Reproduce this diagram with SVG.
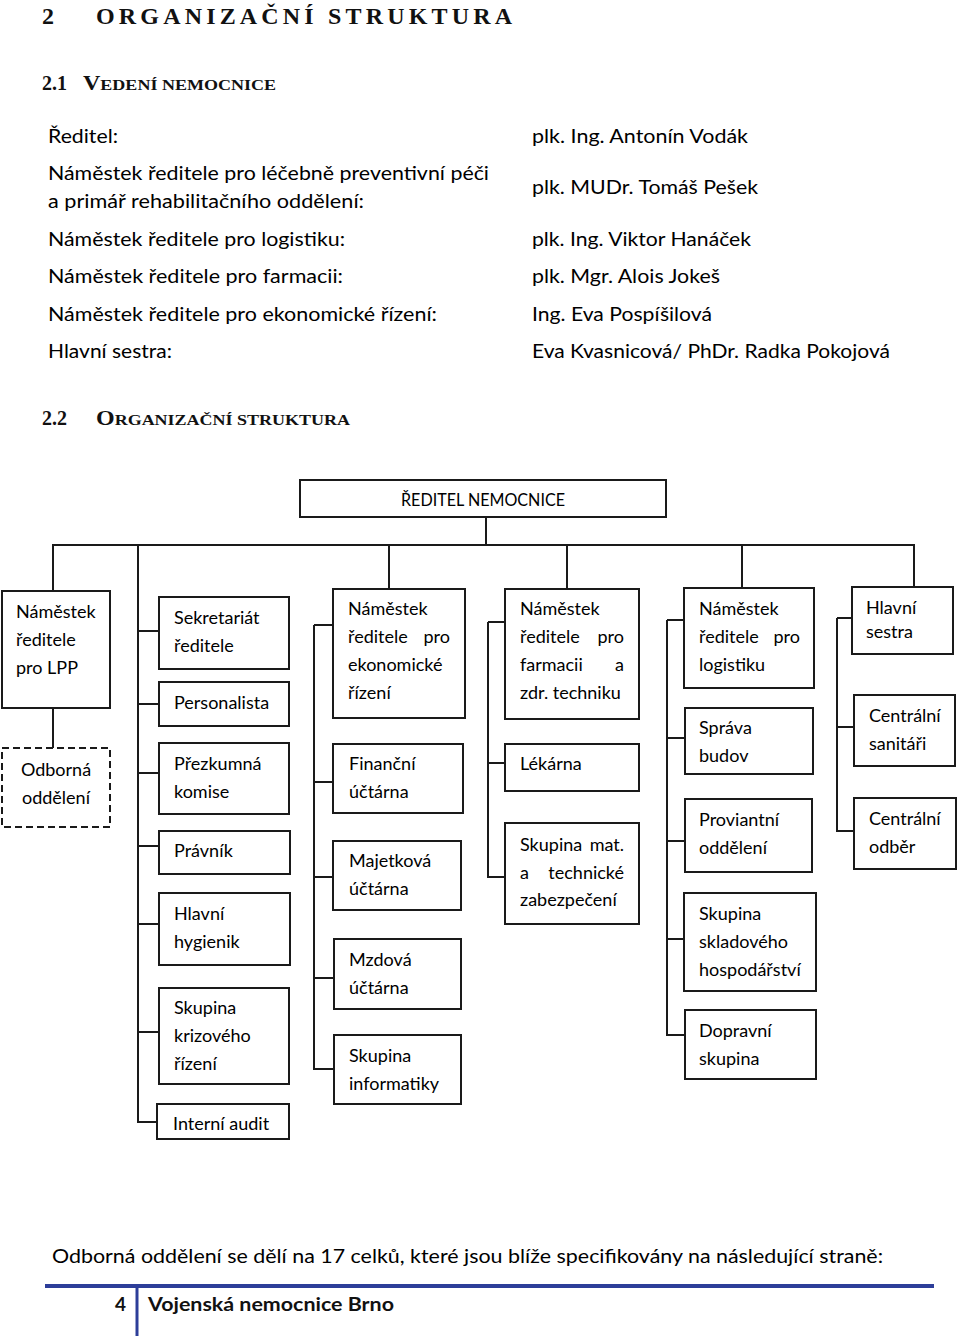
<svg xmlns="http://www.w3.org/2000/svg" width="960" height="1339" viewBox="0 0 960 1339">
<style>
.bg{fill:#fff}
.box{fill:#fff;stroke:#1a1a1a;stroke-width:2}
.dash{fill:#fff;stroke:#1a1a1a;stroke-width:2;stroke-dasharray:7 4}
.conn{fill:none;stroke:#1a1a1a;stroke-width:2}
.t{font-family:Lato,"Open Sans","Liberation Sans",sans-serif;font-size:18px;fill:#000}
.p{font-family:Lato,"Open Sans","Liberation Sans",sans-serif;font-size:18.5px;fill:#000}
.h{font-family:"Liberation Serif","Times New Roman",serif;font-weight:bold;fill:#111}
.f{font-family:Lato,"Open Sans","Liberation Sans",sans-serif;font-size:19px;font-weight:bold;fill:#111}
</style>
<rect class="bg" x="0" y="0" width="960" height="1339"/>

<g id="headings">
<text class="h" x="42" y="24" font-size="24">2</text>
<text class="h" x="96" y="24" font-size="24" textLength="416" lengthAdjust="spacing">ORGANIZAČNÍ STRUKTURA</text>
<text class="h" x="42" y="90" font-size="20">2.1</text>
<text class="h" x="83" y="90" font-size="20" textLength="193" lengthAdjust="spacingAndGlyphs">V<tspan font-size="15">EDENÍ NEMOCNICE</tspan></text>
<text class="h" x="42" y="425" font-size="20">2.2</text>
<text class="h" x="96" y="425" font-size="20" textLength="254" lengthAdjust="spacingAndGlyphs">O<tspan font-size="15">RGANIZAČNÍ STRUKTURA</tspan></text>
</g>

<g id="management">
<text class="p" x="48" y="143" textLength="70" lengthAdjust="spacingAndGlyphs">Ředitel:</text>
<text class="p" x="48" y="180" textLength="441" lengthAdjust="spacingAndGlyphs">Náměstek ředitele pro léčebně preventivní péči</text>
<text class="p" x="48" y="208" textLength="316" lengthAdjust="spacingAndGlyphs">a primář rehabilitačního oddělení:</text>
<text class="p" x="48" y="246" textLength="297" lengthAdjust="spacingAndGlyphs">Náměstek ředitele pro logistiku:</text>
<text class="p" x="48" y="283" textLength="295" lengthAdjust="spacingAndGlyphs">Náměstek ředitele pro farmacii:</text>
<text class="p" x="48" y="321" textLength="389" lengthAdjust="spacingAndGlyphs">Náměstek ředitele pro ekonomické řízení:</text>
<text class="p" x="48" y="358" textLength="124" lengthAdjust="spacingAndGlyphs">Hlavní sestra:</text>
<text class="p" x="532" y="143" textLength="216" lengthAdjust="spacingAndGlyphs">plk. Ing. Antonín Vodák</text>
<text class="p" x="532" y="194" textLength="226" lengthAdjust="spacingAndGlyphs">plk. MUDr. Tomáš Pešek</text>
<text class="p" x="532" y="246" textLength="219" lengthAdjust="spacingAndGlyphs">plk. Ing. Viktor Hanáček</text>
<text class="p" x="532" y="283" textLength="188" lengthAdjust="spacingAndGlyphs">plk. Mgr. Alois Jokeš</text>
<text class="p" x="532" y="321" textLength="180" lengthAdjust="spacingAndGlyphs">Ing. Eva Pospíšilová</text>
<text class="p" x="532" y="358" textLength="358" lengthAdjust="spacingAndGlyphs">Eva Kvasnicová/ PhDr. Radka Pokojová</text>
</g>

<g id="connectors">
<path class="conn" d="M486 517V545M52 545H915M53 545V591M53 708V748"/>
<path class="conn" d="M138 545V1122H157M138 631H159M138 704H159M138 773H159M138 846H159M138 924H159M138 1032H159"/>
<path class="conn" d="M389 545V589M314 625V1069H334M314 625H333M314 782H333M314 877H333M314 978H334"/>
<path class="conn" d="M567 545V589M488 622V877H505M488 622H505M488 763H505"/>
<path class="conn" d="M742 545V588M667 620V1035H685M667 620H684M667 738H685M667 841H685M667 939H684"/>
<path class="conn" d="M914 545V587M837 618V831H854M837 618H852M837 727H854"/>
</g>

<g id="n-reditel">
<rect class="box" x="300" y="480" width="366" height="37"/>
<text class="t" x="483" y="506" text-anchor="middle" textLength="164" lengthAdjust="spacingAndGlyphs">ŘEDITEL NEMOCNICE</text>
</g>

<g id="n-lpp">
<rect class="box" x="2" y="591" width="108" height="117"/>
<text class="t" x="16" y="618">Náměstek</text>
<text class="t" x="16" y="646">ředitele</text>
<text class="t" x="16" y="674">pro LPP</text>
</g>
<g id="n-odborna">
<rect class="dash" x="2" y="748" width="108" height="79"/>
<text class="t" x="56" y="776" text-anchor="middle">Odborná</text>
<text class="t" x="56" y="804" text-anchor="middle">oddělení</text>
</g>

<g id="n-sekretariat">
<rect class="box" x="159" y="597" width="130" height="72"/>
<text class="t" x="174" y="624">Sekretariát</text>
<text class="t" x="174" y="652">ředitele</text>
</g>
<g id="n-personalista">
<rect class="box" x="159" y="682" width="130" height="44"/>
<text class="t" x="174" y="709">Personalista</text>
</g>
<g id="n-prezkumna">
<rect class="box" x="159" y="743" width="130" height="71"/>
<text class="t" x="174" y="770">Přezkumná</text>
<text class="t" x="174" y="798">komise</text>
</g>
<g id="n-pravnik">
<rect class="box" x="159" y="831" width="131" height="43"/>
<text class="t" x="174" y="857">Právník</text>
</g>
<g id="n-hygienik">
<rect class="box" x="159" y="893" width="131" height="72"/>
<text class="t" x="174" y="920">Hlavní</text>
<text class="t" x="174" y="948">hygienik</text>
</g>
<g id="n-krizove">
<rect class="box" x="159" y="988" width="130" height="96"/>
<text class="t" x="174" y="1014">Skupina</text>
<text class="t" x="174" y="1042">krizového</text>
<text class="t" x="174" y="1070">řízení</text>
</g>
<g id="n-audit">
<rect class="box" x="157" y="1104" width="132" height="35"/>
<text class="t" x="173" y="1130">Interní audit</text>
</g>

<g id="n-ekonom">
<rect class="box" x="333" y="589" width="132" height="129"/>
<text class="t" x="348" y="615">Náměstek</text>
<text class="t" x="348" y="643">ředitele</text>
<text class="t" x="450" y="643" text-anchor="end">pro</text>
<text class="t" x="348" y="671">ekonomické</text>
<text class="t" x="348" y="699">řízení</text>
</g>
<g id="n-financni">
<rect class="box" x="333" y="744" width="130" height="69"/>
<text class="t" x="349" y="770">Finanční</text>
<text class="t" x="349" y="798">účtárna</text>
</g>
<g id="n-majetkova">
<rect class="box" x="333" y="841" width="128" height="69"/>
<text class="t" x="349" y="867">Majetková</text>
<text class="t" x="349" y="895">účtárna</text>
</g>
<g id="n-mzdova">
<rect class="box" x="334" y="939" width="127" height="70"/>
<text class="t" x="349" y="966">Mzdová</text>
<text class="t" x="349" y="994">účtárna</text>
</g>
<g id="n-informatika">
<rect class="box" x="334" y="1035" width="127" height="69"/>
<text class="t" x="349" y="1062">Skupina</text>
<text class="t" x="349" y="1090">informatiky</text>
</g>

<g id="n-farmacie">
<rect class="box" x="505" y="589" width="134" height="130"/>
<text class="t" x="520" y="615">Náměstek</text>
<text class="t" x="520" y="643">ředitele</text>
<text class="t" x="624" y="643" text-anchor="end">pro</text>
<text class="t" x="520" y="671">farmacii</text>
<text class="t" x="624" y="671" text-anchor="end">a</text>
<text class="t" x="520" y="699">zdr. techniku</text>
</g>
<g id="n-lekarna">
<rect class="box" x="505" y="744" width="134" height="47"/>
<text class="t" x="520" y="770">Lékárna</text>
</g>
<g id="n-skupina-mat">
<rect class="box" x="505" y="823" width="134" height="101"/>
<text class="t" x="520" y="851">Skupina</text>
<text class="t" x="624" y="851" text-anchor="end">mat.</text>
<text class="t" x="520" y="879">a</text>
<text class="t" x="624" y="879" text-anchor="end">technické</text>
<text class="t" x="520" y="906">zabezpečení</text>
</g>

<g id="n-logistika">
<rect class="box" x="684" y="588" width="130" height="100"/>
<text class="t" x="699" y="615">Náměstek</text>
<text class="t" x="699" y="643">ředitele</text>
<text class="t" x="800" y="643" text-anchor="end">pro</text>
<text class="t" x="699" y="671">logistiku</text>
</g>
<g id="n-sprava">
<rect class="box" x="685" y="708" width="128" height="66"/>
<text class="t" x="699" y="734">Správa</text>
<text class="t" x="699" y="762">budov</text>
</g>
<g id="n-proviantni">
<rect class="box" x="685" y="799" width="127" height="73"/>
<text class="t" x="699" y="826">Proviantní</text>
<text class="t" x="699" y="854">oddělení</text>
</g>
<g id="n-sklad">
<rect class="box" x="684" y="893" width="132" height="98"/>
<text class="t" x="699" y="920">Skupina</text>
<text class="t" x="699" y="948">skladového</text>
<text class="t" x="699" y="976">hospodářství</text>
</g>
<g id="n-doprava">
<rect class="box" x="685" y="1010" width="131" height="69"/>
<text class="t" x="699" y="1037">Dopravní</text>
<text class="t" x="699" y="1065">skupina</text>
</g>

<g id="n-sestra">
<rect class="box" x="852" y="587" width="101" height="67"/>
<text class="t" x="866" y="614">Hlavní</text>
<text class="t" x="866" y="638">sestra</text>
</g>
<g id="n-sanitari">
<rect class="box" x="854" y="695" width="101" height="71"/>
<text class="t" x="869" y="722">Centrální</text>
<text class="t" x="869" y="750">sanitáři</text>
</g>
<g id="n-odber">
<rect class="box" x="854" y="798" width="102" height="71"/>
<text class="t" x="869" y="825">Centrální</text>
<text class="t" x="869" y="853">odběr</text>
</g>

<g id="footer">
<text class="p" x="52" y="1263" textLength="831" lengthAdjust="spacingAndGlyphs">Odborná oddělení se dělí na 17 celků, které jsou blíže specifikovány na následující straně:</text>
<line x1="45" y1="1286" x2="934" y2="1286" stroke="#2D3E99" stroke-width="4"/>
<line x1="137" y1="1286" x2="137" y2="1336" stroke="#2D3E99" stroke-width="3"/>
<text class="f" x="115" y="1311">4</text>
<text class="f" x="148" y="1311" textLength="246" lengthAdjust="spacingAndGlyphs">Vojenská nemocnice Brno</text>
</g>
</svg>
